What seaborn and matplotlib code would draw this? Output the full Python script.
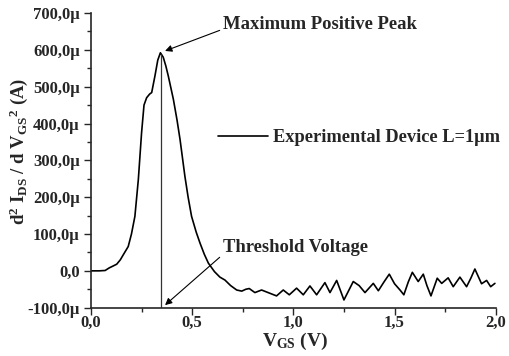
import matplotlib
matplotlib.use("Agg")
import matplotlib.pyplot as plt
import numpy as np
import pandas as pd
import seaborn as sns

# data (V_GS in V, d2I/dV2 in uA)
vgs = [0.0, 0.04, 0.07, 0.09, 0.105, 0.127, 0.145, 0.16, 0.184, 0.20, 0.217,
       0.234, 0.25, 0.262, 0.275, 0.29, 0.30, 0.316, 0.33, 0.343, 0.357,
       0.37, 0.382, 0.407, 0.425, 0.44, 0.464, 0.48, 0.497, 0.52, 0.539,
       0.56, 0.58, 0.61, 0.637, 0.662, 0.69, 0.72, 0.745, 0.765, 0.782,
       0.81, 0.843, 0.88, 0.917, 0.95, 0.98, 1.016, 1.049, 1.082, 1.115,
       1.156, 1.181, 1.214, 1.25, 1.296, 1.325, 1.354, 1.395, 1.42, 1.448,
       1.474, 1.50, 1.527, 1.546, 1.568, 1.588, 1.617, 1.642, 1.66, 1.68,
       1.711, 1.733, 1.765, 1.79, 1.823, 1.856, 1.877, 1.897, 1.93, 1.955,
       1.975, 1.996]
d2i = [0, 0, 1, 8, 12, 18, 30, 44, 66, 100, 148,
       248, 375, 450, 470, 480, 484, 529, 572, 592, 580,
       556, 529, 466, 410, 357, 257, 200, 148, 105, 75,
       45, 21, -2, -17, -25, -40, -52, -55, -50, -48,
       -59, -52, -60, -68, -52, -65, -47, -65, -41, -65,
       -32, -59, -26, -79, -29, -40, -59, -34, -54, -30,
       -9, -35, -52, -65, -30, -4, -29, -9, -40, -68,
       -20, -34, -19, -43, -17, -43, -20, 5, -35, -26,
       -43, -34]

x_ticks = [0.0, 0.5, 1.0, 1.5, 2.0]
x_ticklabels = ["0,0", "0,5", "1,0", "1,5", "2,0"]
y_ticks = [-100, 0, 100, 200, 300, 400, 500, 600, 700]
y_ticklabels = ["-100,0µ", "0,0", "100,0µ", "200,0µ", "300,0µ",
                "400,0µ", "500,0µ", "600,0µ", "700,0µ"]

threshold_v = 0.346
peak_val = 590

df = pd.DataFrame({"vgs": vgs, "d2i": d2i})

sns.set_style("ticks")
plt.rcParams["font.family"] = ["Liberation Serif", "DejaVu Serif"]
plt.rcParams["font.weight"] = "bold"
plt.rcParams["mathtext.fontset"] = "custom"
plt.rcParams["mathtext.rm"] = "Liberation Serif:bold"
plt.rcParams["mathtext.it"] = "Liberation Serif:bold"
plt.rcParams["mathtext.bf"] = "Liberation Serif:bold"
plt.rcParams["mathtext.default"] = "rm"

fig = plt.figure(figsize=(5.1, 3.56), dpi=100)
ax = fig.add_axes([0.1784, 0.1357, 0.7936, 0.8278])

sns.lineplot(data=df, x="vgs", y="d2i", color="black", linewidth=1.2,
             sort=False, ax=ax, label="Experimental Device L=1µm")
ax.vlines(threshold_v, -100, peak_val, color="#333333", linewidth=0.9)

ax.set_xlim(0, 2.0)
ax.set_ylim(-100, 700)
ax.set_xticks(x_ticks)
ax.set_xticklabels(x_ticklabels)
ax.set_yticks(y_ticks)
ax.set_yticklabels(y_ticklabels)
ax.set_xticks([0.25, 0.75, 1.25, 1.75], minor=True)
ax.set_yticks([-50, 50, 150, 250, 350, 450, 550, 650], minor=True)
ax.tick_params(axis="both", which="major", direction="out", length=5,
               width=1, labelsize=12, pad=3)
ax.tick_params(axis="x", which="major", pad=0.5)
ax.tick_params(axis="both", which="minor", direction="out", length=3, width=1)
for lab in ax.get_xticklabels() + ax.get_yticklabels():
    lab.set_fontweight("bold")
sns.despine(ax=ax)
for s in ["left", "bottom"]:
    ax.spines[s].set_linewidth(1.2)

ax.set_xlabel("V$_{GS}$ (V)", fontsize=14, fontweight="bold")
ax.xaxis.set_label_coords(0.505, -0.078)
ax.set_ylabel("d$^{2}$ I$_{DS}$ / d V$_{GS}$$^{2}$ (A)", fontsize=13.5,
              fontweight="bold")
ax.yaxis.set_label_coords(-0.15, 0.53)

arrow = dict(arrowstyle="-|>", color="black", lw=0.8, mutation_scale=10,
             shrinkA=0, shrinkB=0)
ax.annotate("Maximum Positive Peak", xy=(0.366, 597), xytext=(0.652, 670),
            fontsize=13.4, fontweight="bold", va="center", ha="left",
            arrowprops=dict(arrow, relpos=(0, 0.2)))
ax.annotate("Threshold Voltage", xy=(0.366, -93), xytext=(0.652, 63),
            fontsize=13.4, fontweight="bold", va="center", ha="left",
            arrowprops=dict(arrow, relpos=(0, 0.1)))

leg = ax.legend(loc="center left", bbox_to_anchor=(0.314, 0.576), frameon=False,
                handlelength=2.7, handletextpad=0.3, borderpad=0, borderaxespad=0,
                prop={"family": "Liberation Serif", "weight": "bold", "size": 13.2})

fig.savefig("out.png", dpi=100)
